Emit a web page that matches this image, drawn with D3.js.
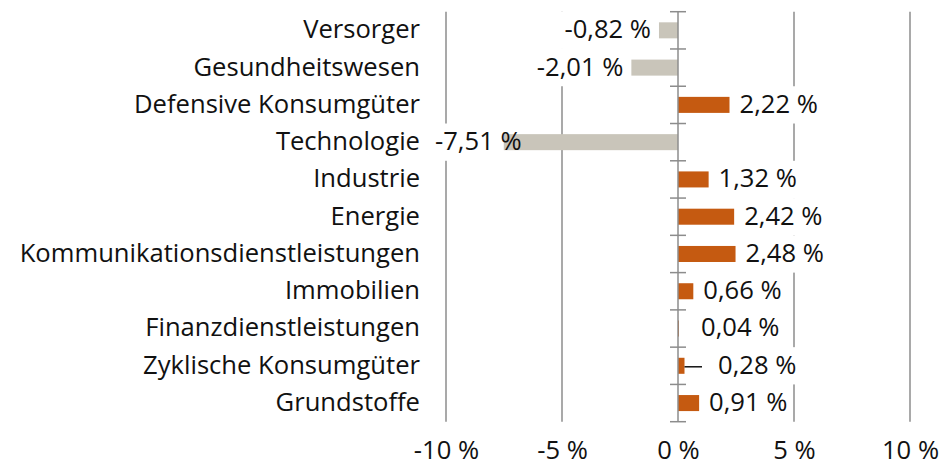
<!DOCTYPE html>
<html>
<head>
<meta charset="utf-8">
<script src="https://cdn.jsdelivr.net/npm/d3@7"></script>
<style>
  html, body { margin: 0; padding: 0; background: #fff; }
  svg { display: block; font-family: "Open Sans", "Noto Sans", sans-serif; }
</style>
</head>
<body>
<svg id="chart" width="939" height="466"></svg>
<script>
// Sector performance, in percent
const sectors = [
  "Versorger",
  "Gesundheitswesen",
  "Defensive Konsumgüter",
  "Technologie",
  "Industrie",
  "Energie",
  "Kommunikationsdienstleistungen",
  "Immobilien",
  "Finanzdienstleistungen",
  "Zyklische Konsumgüter",
  "Grundstoffe"
];
const performance = [-0.82, -2.01, 2.22, -7.51, 1.32, 2.42, 2.48, 0.66, 0.04, 0.28, 0.91];
const xTicks = [-10, -5, 0, 5, 10];

const rows = sectors.map((name, i) => ({ name, value: performance[i] }));

const W = 939, H = 466;
const margin = { top: 11.7, right: 29, bottom: 44.3, left: 446 };
const fontSize = 25.6;
const catGap = 26;          // space between category labels and plot
const leaderRows = new Set(["Zyklische Konsumgüter"]);

// German number format with a plain hyphen for negatives
const fmt = v => (v < 0 ? "-" : "") + Math.abs(v).toFixed(2).replace(".", ",") + " %";

const svg = d3.select("#chart");

const x = d3.scaleLinear()
  .domain([-10, 10])
  .range([margin.left, W - margin.right]);

const y = d3.scaleBand()
  .domain(sectors)
  .range([margin.top, H - margin.bottom])
  .paddingInner(0.57)
  .paddingOuter(0.285);

const yBounds = d3.scaleLinear()
  .domain([0, sectors.length])
  .range([margin.top, H - margin.bottom]);

const gridColor = "#8c8c8c";
const posColor = "#c55a11";
const negColor = "#c9c5ba";
const textColor = "#111";

// vertical gridlines (zero line is drawn separately as the axis)
svg.append("g")
  .selectAll("line")
  .data(xTicks.filter(t => t !== 0))
  .join("line")
  .attr("x1", d => x(d)).attr("x2", d => x(d))
  .attr("y1", margin.top).attr("y2", H - margin.bottom)
  .attr("stroke", gridColor)
  .attr("stroke-width", 1.5);

// bottom tick labels
const xAxis = d3.axisBottom(x)
  .tickValues(xTicks)
  .tickSize(0)
  .tickPadding(0)
  .tickFormat(d => (d < 0 ? "-" : "") + Math.abs(d) + " %");
svg.append("g")
  .attr("transform", `translate(0,${H - margin.bottom})`)
  .call(xAxis)
  .call(g => g.select(".domain").remove())
  .call(g => g.selectAll("text")
    .attr("y", 0)
    .attr("dy", 0)
    .attr("transform", "translate(0,37)")
    .attr("font-size", fontSize)
    .attr("font-family", "'Open Sans', 'Noto Sans', sans-serif")
    .attr("fill", textColor));

// category labels
const catRight = margin.left - catGap;
svg.append("g")
  .selectAll("text")
  .data(rows)
  .join("text")
  .attr("x", catRight)
  .attr("y", d => y(d.name) + y.bandwidth() / 2)
  .attr("dy", "0.31em")
  .attr("text-anchor", "end")
  .attr("font-size", fontSize)
  .attr("fill", textColor)
  .text(d => d.name);

// layers: label boxes sit under bars and axis, label text on top
const boxLayer = svg.append("g");
const barLayer = svg.append("g");
const axisLayer = svg.append("g");
const textLayer = svg.append("g");

const labels = textLayer.selectAll("text")
  .data(rows)
  .join("text")
  .attr("y", d => y(d.name) + y.bandwidth() / 2)
  .attr("dy", "0.31em")
  .attr("font-size", fontSize)
  .attr("fill", textColor)
  .text(d => fmt(d.value));

labels.each(function (d) {
  const w = this.getComputedTextLength();
  d.textW = w;
  if (d.value < 0) {
    let end = x(d.value) - 8;
    const minEnd = catRight + 15 + w;   // keep clear of the category label
    if (end < minEnd) end = minEnd;
    d.lx = end - w;
  } else if (leaderRows.has(d.name)) {
    d.lx = x(0) + 40;
  } else {
    d.lx = Math.max(x(d.value) + 10, x(0) + 23);
  }
});
labels.attr("x", d => d.lx);

// white boxes behind labels hide gridlines
const padX = 4;
const step = y.step();
boxLayer.selectAll("rect")
  .data(rows)
  .join("rect")
  .attr("x", d => d.lx - padX)
  .attr("width", d => d.textW + 2 * padX)
  .attr("y", d => y(d.name) + y.bandwidth() / 2 - step / 2)
  .attr("height", step)
  .attr("fill", "#fff");

// bars
barLayer.selectAll("rect")
  .data(rows)
  .join("rect")
  .attr("x", d => x(Math.min(0, d.value)))
  .attr("width", d => Math.abs(x(d.value) - x(0)))
  .attr("y", d => y(d.name))
  .attr("height", y.bandwidth())
  .attr("fill", d => d.value < 0 ? negColor : posColor);

// leader line for shifted label
barLayer.selectAll("line.leader")
  .data(rows.filter(d => leaderRows.has(d.name)))
  .join("line")
  .attr("class", "leader")
  .attr("x1", d => x(d.value))
  .attr("x2", d => d.lx - 16)
  .attr("y1", d => y(d.name) + y.bandwidth() / 2 + 1)
  .attr("y2", d => y(d.name) + y.bandwidth() / 2 + 1)
  .attr("stroke", textColor)
  .attr("stroke-width", 1.5);

// zero axis with tick marks between categories
axisLayer.append("line")
  .attr("x1", x(0)).attr("x2", x(0))
  .attr("y1", margin.top).attr("y2", H - margin.bottom)
  .attr("stroke", gridColor)
  .attr("stroke-width", 1.5);
axisLayer.selectAll("line.tick")
  .data(d3.range(sectors.length + 1))
  .join("line")
  .attr("class", "tick")
  .attr("x1", x(0) - 8).attr("x2", x(0) + 8)
  .attr("y1", d => yBounds(d)).attr("y2", d => yBounds(d))
  .attr("stroke", gridColor)
  .attr("stroke-width", 1.5);
</script>
</body>
</html>
